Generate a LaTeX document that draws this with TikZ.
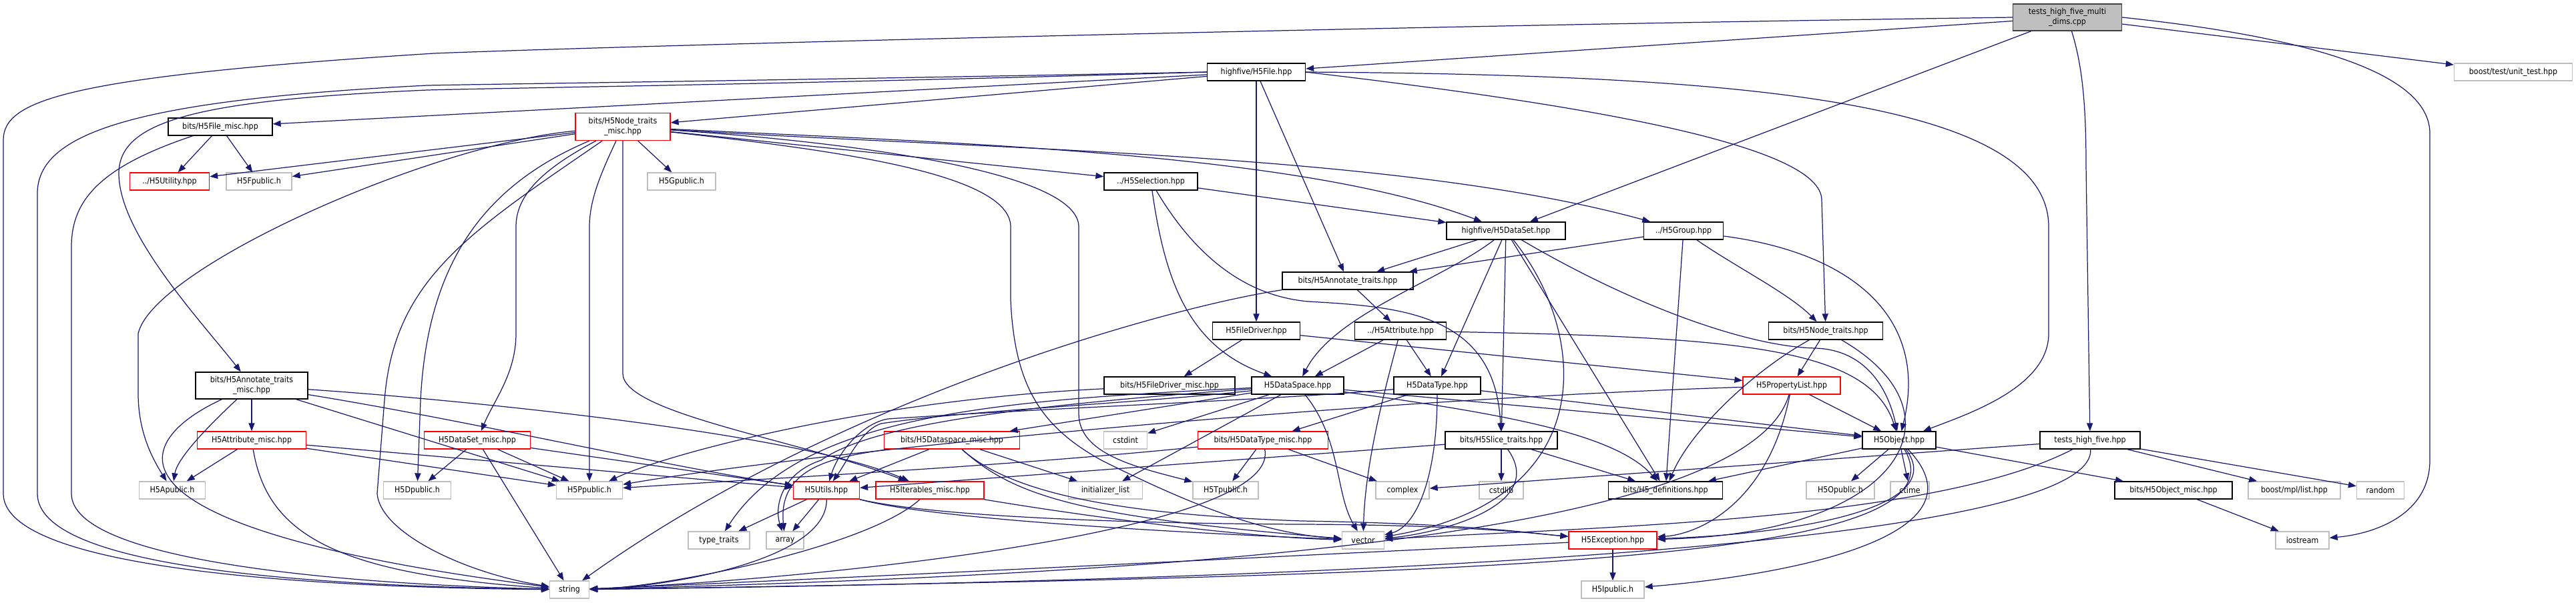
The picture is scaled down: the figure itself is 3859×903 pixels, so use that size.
\documentclass[tikz,border=0pt]{standalone}
\usepackage{fontspec}
\setmainfont{DejaVu Sans Condensed}
\usetikzlibrary{arrows.meta}
\definecolor{edgec}{HTML}{191970}
\definecolor{redc}{HTML}{FF0000}
\definecolor{grayc}{HTML}{BFBFBF}
\definecolor{fillc}{HTML}{BFBFBF}
\definecolor{darkc}{HTML}{404040}
\begin{document}
\begin{tikzpicture}[x=0.02cm,y=-0.02cm,
  base/.style={rectangle,inner sep=0pt,minimum height=0.52cm,line width=0.8pt,font=\fontsize{7}{8.6}\selectfont,align=center,text=black},
  nb/.style={base,draw=black},
  nr/.style={base,draw=redc},
  ng/.style={base,draw=grayc},
  nt/.style={base,draw=darkc,fill=fillc,minimum height=0.8cm},
  dep/.style={draw=edgec,line width=0.7pt,-{Triangle[length=6.8pt,width=5.2pt]}}]
\useasboundingbox (0,0) rectangle (3859,903);
% nodes
\node[nt,minimum width=3.26cm] (T) at (3097,26) {tests\_high\_five\_multi\\\_dims.cpp};
\node[nb,minimum width=2.94cm] (file) at (1882,108) {highfive/H5File.hpp};
\node[ng,minimum width=3.54cm] (unit) at (3765,108) {boost/test/unit\_test.hpp};
\node[nb,minimum width=3.12cm] (filemisc) at (330,190) {bits/H5File\_misc.hpp};
\node[nr,minimum width=2.84cm,minimum height=0.82cm] (ntmisc) at (933,190) {bits/H5Node\_traits\\\_misc.hpp};
\node[nr,minimum width=2.38cm] (utility) at (254,272) {../H5Utility.hpp};
\node[ng,minimum width=1.96cm] (fpublic) at (388,272) {H5Fpublic.h};
\node[ng,minimum width=2.04cm] (gpublic) at (1021,272) {H5Gpublic.h};
\node[nb,minimum width=2.8cm] (selection) at (1724,272) {../H5Selection.hpp};
\node[nb,minimum width=3.56cm] (dataset) at (2256,346) {highfive/H5DataSet.hpp};
\node[nb,minimum width=2.38cm] (group) at (2522,346) {../H5Group.hpp};
\node[nb,minimum width=3.92cm] (annot) at (2019,421) {bits/H5Annotate\_traits.hpp};
\node[nb,minimum width=2.62cm] (driver) at (1882,496) {H5FileDriver.hpp};
\node[nb,minimum width=2.74cm] (attr) at (2098,496) {../H5Attribute.hpp};
\node[nb,minimum width=3.42cm] (ntraits) at (2735,496) {bits/H5Node\_traits.hpp};
\node[nb,minimum width=3.36cm,minimum height=0.8cm] (annotmisc) at (377,578) {bits/H5Annotate\_traits\\\_misc.hpp};
\node[nb,minimum width=3.92cm] (drivermisc) at (1752,578) {bits/H5FileDriver\_misc.hpp};
\node[nb,minimum width=2.76cm] (dspace) at (1944,578) {H5DataSpace.hpp};
\node[nb,minimum width=2.6cm] (dtype) at (2153,578) {H5DataType.hpp};
\node[nr,minimum width=2.92cm] (plist) at (2684,578) {H5PropertyList.hpp};
\node[nr,minimum width=3.26cm] (attrmisc) at (377,660) {H5Attribute\_misc.hpp};
\node[nr,minimum width=3.18cm] (dsetmisc) at (715,660) {H5DataSet\_misc.hpp};
\node[nr,minimum width=4.06cm] (dspacemisc) at (1426,660) {bits/H5Dataspace\_misc.hpp};
\node[ng,minimum width=1.3cm] (cstdint) at (1686,660) {cstdint};
\node[nr,minimum width=3.9cm] (dtypemisc) at (1892,660) {bits/H5DataType\_misc.hpp};
\node[nb,minimum width=3.36cm] (slice) at (2249,660) {bits/H5Slice\_traits.hpp};
\node[nb,minimum width=2.2cm] (object) at (2845,660) {H5Object.hpp};
\node[nb,minimum width=3.0cm] (thf) at (3131,660) {tests\_high\_five.hpp};
\node[ng,minimum width=1.98cm] (apublic) at (258,735) {H5Apublic.h};
\node[ng,minimum width=2.02cm] (dpublic) at (625,735) {H5Dpublic.h};
\node[ng,minimum width=1.98cm] (ppublic) at (883,735) {H5Ppublic.h};
\node[nr,minimum width=1.98cm] (utils) at (1238,735) {H5Utils.hpp};
\node[nr,minimum width=3.24cm] (iter) at (1393,735) {H5Iterables\_misc.hpp};
\node[ng,minimum width=2.22cm] (initlist) at (1656,735) {initializer\_list};
\node[ng,minimum width=1.96cm] (tpublic) at (1836,735) {H5Tpublic.h};
\node[ng,minimum width=1.6cm] (complex) at (2101,735) {complex};
\node[ng,minimum width=1.32cm] (cstdlib) at (2249,735) {cstdlib};
\node[nb,minimum width=3.42cm] (defs) at (2495,735) {bits/H5\_definitions.hpp};
\node[ng,minimum width=2.04cm] (opublic) at (2757,735) {H5Opublic.h};
\node[ng,minimum width=1.16cm] (ctime) at (2861,735) {ctime};
\node[nb,minimum width=3.52cm] (objmisc) at (3256,735) {bits/H5Object\_misc.hpp};
\node[ng,minimum width=2.76cm] (mpl) at (3437,735) {boost/mpl/list.hpp};
\node[ng,minimum width=1.42cm] (random) at (3566,735) {random};
\node[ng,minimum width=1.84cm] (typetraits) at (1077,810) {type\_traits};
\node[ng,minimum width=1.12cm] (array) at (1176,810) {array};
\node[ng,minimum width=1.26cm] (vector) at (2042,810) {vector};
\node[nr,minimum width=2.64cm] (exception) at (2416,810) {H5Exception.hpp};
\node[ng,minimum width=1.6cm] (iostream) at (3449,810) {iostream};
\node[ng,minimum width=1.18cm] (string) at (853,884) {string};
\node[ng,minimum width=1.88cm] (ipublic) at (2416,884) {H5Ipublic.h};
% edges from tests_high_five_multi_dims.cpp
\draw[dep] (T) -- (file);
\draw[dep] (T.west) .. controls (2000,40) and (900,70) .. (650,80) .. controls (100,115) and (5,150) .. (5,210) -- (5,740) .. controls (5,845) and (400,880) .. (string);
\draw[dep] (T) -- (dataset);
\draw[dep] (T) .. controls (3120,100) and (3125,160) .. (3125,250) -- (thf);
\draw[dep] (T) -- (unit);
\draw[dep] (T.east) .. controls (3500,60) and (3640,120) .. (3640,200) -- (3640,690) .. controls (3640,770) and (3560,800) .. (iostream);
% highfive/H5File.hpp
\draw[dep] (file) -- (filemisc);
\draw[dep] (file) -- (ntmisc);
\draw[dep] (file.west) .. controls (1200,120) and (800,125) .. (640,128) .. controls (200,150) and (56,200) .. (56,290) -- (56,740) .. controls (56,850) and (450,878) .. (string);
\draw[dep] (file.west) .. controls (1200,126) and (800,131) .. (640,135) .. controls (300,150) and (178,180) .. (178,260) .. controls (178,350) and (300,480) .. (annotmisc);
\draw[dep] (file) -- (driver);
\draw[dep] (file) -- (annot);
\draw[dep] (file.east) .. controls (2600,112) and (3069,150) .. (3069,340) -- (3069,500) .. controls (3069,580) and (2950,620) .. (object);
\draw[dep] (file.east) .. controls (2400,160) and (2729,220) .. (2729,300) -- (ntraits);
% bits/H5File_misc.hpp
\draw[dep] (filemisc) -- (utility);
\draw[dep] (filemisc) -- (fpublic);
\draw[dep] (filemisc) .. controls (150,250) and (107,300) .. (107,370) -- (107,740) .. controls (107,840) and (500,875) .. (string);
% bits/H5Node_traits_misc.hpp
\draw[dep] (ntmisc) -- (utility);
\draw[dep] (ntmisc) -- (fpublic);
\draw[dep] (ntmisc) -- (gpublic);
\draw[dep] (ntmisc) -- (selection);
\draw[dep] (ntmisc) .. controls (1500,225) and (2100,230) .. (group);
\draw[dep] (ntmisc) .. controls (1450,215) and (1950,230) .. (dataset);
\draw[dep] (ntmisc) .. controls (650,215) and (230,400) .. (207,500) -- (207,590) .. controls (207,650) and (230,690) .. (apublic);
\draw[dep] (ntmisc) .. controls (700,350) and (590,420) .. (576,600) -- (565,740) .. controls (570,800) and (700,860) .. (string);
\draw[dep] (ntmisc) .. controls (720,280) and (640,400) .. (630,600) -- (dpublic);
\draw[dep] (ntmisc) .. controls (800,260) and (773,300) .. (773,340) -- (773,500) .. controls (773,560) and (740,600) .. (dsetmisc);
\draw[dep] (ntmisc) .. controls (900,260) and (883,300) .. (883,340) -- (ppublic);
\draw[dep] (ntmisc.south) -- (933,560) .. controls (933,620) and (1200,660) .. (iter);
\draw[dep] (ntmisc) .. controls (1300,215) and (1616,260) .. (1616,340) -- (1616,620) .. controls (1616,680) and (1700,700) .. (tpublic);
\draw[dep] (ntmisc) .. controls (1250,225) and (1514,260) .. (1514,340) -- (1514,450) .. controls (1520,580) and (1560,640) .. (1650,690) .. controls (1800,765) and (1900,800) .. (vector);
% ../H5Selection.hpp
\draw[dep] (selection) -- (dataset);
\draw[dep] (selection) .. controls (1745,420) and (1780,520) .. (dspace);
\draw[dep] (selection) .. controls (1800,400) and (1880,445) .. (1960,452) .. controls (2100,460) and (2240,470) .. (slice);
% highfive/H5DataSet.hpp
\draw[dep] (dataset) -- (annot);
\draw[dep] (dataset) .. controls (2160,420) and (2000,470) .. (dspace);
\draw[dep] (dataset) -- (dtype);
\draw[dep] (dataset) -- (slice);
\draw[dep] (dataset) .. controls (2380,500) and (2400,750) .. (vector);
\draw[dep] (dataset) -- (defs);
\draw[dep] (dataset) .. controls (2450,460) and (2620,520) .. (2720,522) .. controls (2800,525) and (2830,590) .. (object);
% ../H5Group.hpp
\draw[dep] (group) -- (annot);
\draw[dep] (group) -- (defs);
\draw[dep] (group) .. controls (2600,400) and (2680,440) .. (ntraits);
\draw[dep] (group) .. controls (2780,380) and (2890,480) .. (object);
% bits/H5Annotate_traits.hpp
\draw[dep] (annot.south west) .. controls (1750,460) and (1250,600) .. (string);
\draw[dep] (annot) -- (attr);
% ../H5Attribute.hpp
\draw[dep] (attr) -- (dspace);
\draw[dep] (attr) -- (dtype);
\draw[dep] (attr) .. controls (2070,600) and (2045,700) .. (vector);
\draw[dep] (attr) .. controls (2600,505) and (2800,520) .. (object);
% H5FileDriver.hpp
\draw[dep] (driver) -- (drivermisc);
\draw[dep] (driver) -- (plist);
\draw[dep] (drivermisc) .. controls (1300,600) and (1000,680) .. (ppublic);
% H5DataSpace.hpp
\draw[dep] (dspace) -- (dspacemisc);
\draw[dep] (dspace) -- (cstdint);
\draw[dep] (dspace) -- (initlist);
\draw[dep] (dspace) .. controls (2010,660) and (2000,740) .. (vector);
\draw[dep] (dspace) .. controls (2250,620) and (2420,650) .. (defs);
\draw[dep] (dspace) -- (object);
\draw[dep] (dspace) .. controls (1700,605) and (1450,615) .. (1320,635) .. controls (1290,645) and (1270,690) .. (utils);
\draw[dep] (dspace) .. controls (1500,610) and (1300,640) .. (1230,690) .. controls (1170,710) and (1160,760) .. (array);
\draw[dep] (dspace) .. controls (1500,600) and (1200,620) .. (typetraits);
% H5DataType.hpp
\draw[dep] (dtype) -- (dtypemisc);
\draw[dep] (dtype) .. controls (2153,720) and (2120,790) .. (vector);
\draw[dep] (dtype) -- (object);
\draw[dep] (dtype) .. controls (1900,600) and (1600,610) .. (1330,628) .. controls (1290,635) and (1255,680) .. (utils);
% H5PropertyList.hpp
\draw[dep] (plist) -- (object);
\draw[dep] (plist) .. controls (2000,600) and (1200,680) .. (ppublic);
\draw[dep] (plist) .. controls (2650,750) and (2550,800) .. (exception);
\draw[dep] (plist) .. controls (2620,800) and (1800,860) .. (string);
% bits/H5Node_traits.hpp
\draw[dep] (ntraits) -- (plist);
\draw[dep] (ntraits) .. controls (2620,560) and (2530,650) .. (defs);
\draw[dep] (ntraits) .. controls (2950,620) and (2850,800) .. (exception);
% H5Object.hpp
\draw[dep] (object) -- (opublic);
\draw[dep] (object) -- (ctime);
\draw[dep] (object) -- (objmisc);
\draw[dep] (object) -- (defs);
\draw[dep] (object) .. controls (2920,760) and (2700,800) .. (exception);
\draw[dep] (object) .. controls (2980,800) and (2700,860) .. (ipublic);
\draw[dep] (object) .. controls (2950,840) and (2300,862) .. (string);
\draw[dep] (objmisc) -- (iostream);
% tests_high_five.hpp
\draw[dep] (thf) -- (complex);
\draw[dep] (thf) .. controls (2900,780) and (2400,790) .. (vector);
\draw[dep] (thf) .. controls (3140,820) and (2000,870) .. (string);
\draw[dep] (thf) -- (mpl);
\draw[dep] (thf) -- (random);
% bits/H5Slice_traits.hpp
\draw[dep] (slice) -- (cstdlib);
\draw[dep] (slice) .. controls (2320,760) and (2150,800) .. (vector);
\draw[dep] (slice) -- (defs);
\draw[dep] (slice) -- (utils);
% H5Exception.hpp, H5Utils.hpp, H5Iterables_misc.hpp
\draw[dep] (exception) -- (ipublic);
\draw[dep] (exception) .. controls (2000,830) and (1200,870) .. (string);
\draw[dep] (utils) -- (typetraits);
\draw[dep] (utils) -- (array);
\draw[dep] (utils) .. controls (1240,840) and (1000,880) .. (string);
\draw[dep] (utils.south east) .. controls (1400,780) and (1800,800) .. (vector);
\draw[dep] (utils.south east) .. controls (1400,775) and (1700,785) .. (1950,786) .. controls (2200,787) and (2300,800) .. (exception);
\draw[dep] (iter) .. controls (1300,820) and (1000,880) .. (string);
\draw[dep] (iter) .. controls (1600,770) and (1850,805) .. (vector);
% bits/H5Dataspace_misc.hpp
\draw[dep] (dspacemisc) -- (initlist);
\draw[dep] (dspacemisc) -- (utils);
\draw[dep] (dspacemisc) .. controls (1520,745) and (1620,775) .. (vector);
\draw[dep] (dspacemisc) .. controls (1520,745) and (1700,772) .. (1950,781) .. controls (2200,785) and (2300,800) .. (exception);
\draw[dep] (dspacemisc) .. controls (1250,685) and (1165,700) .. (array);
% bits/H5DataType_misc.hpp
\draw[dep] (dtypemisc) -- (tpublic);
\draw[dep] (dtypemisc) -- (complex);
\draw[dep] (dtypemisc) .. controls (1920,800) and (1200,870) .. (string);
\draw[dep] (dtypemisc) .. controls (1500,700) and (1100,720) .. (ppublic);
% H5DataSet_misc.hpp
\draw[dep] (dsetmisc) -- (dpublic);
\draw[dep] (dsetmisc) -- (ppublic);
\draw[dep] (dsetmisc) -- (string);
\draw[dep] (dsetmisc) -- (utils);
% H5Attribute_misc.hpp
\draw[dep] (attrmisc) -- (apublic);
\draw[dep] (attrmisc) .. controls (400,800) and (500,860) .. (string);
\draw[dep] (attrmisc) -- (ppublic);
\draw[dep] (attrmisc) -- (utils);
% bits/H5Annotate_traits_misc.hpp
\draw[dep] (annotmisc) .. controls (300,650) and (265,690) .. (apublic);
\draw[dep] (annotmisc) .. controls (200,660) and (120,790) .. (string);
\draw[dep] (annotmisc) -- (attrmisc);
\draw[dep] (annotmisc) -- (ppublic);
\draw[dep] (annotmisc) .. controls (700,630) and (1000,700) .. (utils);
\draw[dep] (annotmisc) .. controls (700,600) and (1200,650) .. (iter);
\end{tikzpicture}
\end{document}
